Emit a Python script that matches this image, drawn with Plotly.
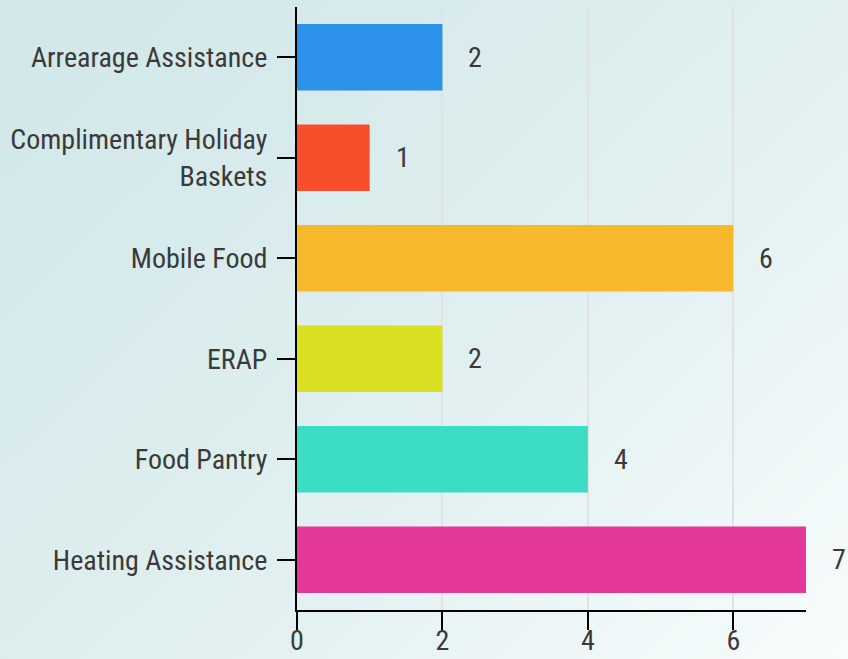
import plotly.graph_objects as go

categories = ["Arrearage Assistance", "Complimentary Holiday<br>Baskets", "Mobile Food",
              "ERAP", "Food Pantry", "Heating Assistance"]
values = [2, 1, 6, 2, 4, 7]
colors = ["#2D92EA", "#F94E2C", "#F6B92B", "#D8E021", "#3BDDC4", "#E4399B"]
x_ticks = [0, 2, 4, 6]

FONT = "Roboto Condensed, Liberation Sans Narrow, Roboto, sans-serif"
TXT = "#3a3a3a"
FS = 28

W, H = 848, 659
ml, mr, mt, mb = 297, 42, 7, 49
pw, ph = W - ml - mr, H - mt - mb

svg = ("data:image/svg+xml;utf8,<svg xmlns='http://www.w3.org/2000/svg' width='848' height='659'>"
       "<defs><linearGradient id='g' x1='0' y1='0.2' x2='1' y2='1'>"
       "<stop offset='0' stop-color='%23d2e8e9'/><stop offset='0.55' stop-color='%23e2f0f1'/>"
       "<stop offset='1' stop-color='%23f8fcfc'/></linearGradient></defs>"
       "<rect width='848' height='659' fill='url(%23g)'/></svg>")

fig = go.Figure(go.Bar(
    x=values, y=categories, orientation="h",
    marker=dict(color=colors, line=dict(width=0)),
    hoverinfo="skip",
))

for v, c in zip(values, categories):
    fig.add_annotation(x=v, y=c, text=str(v), showarrow=False, xanchor="left",
                       xshift=24, font=dict(family=FONT, size=FS, color=TXT))

fig.update_layout(
    width=W, height=H,
    margin=dict(l=ml, r=mr, t=mt, b=mb, autoexpand=False),
    paper_bgcolor="rgba(0,0,0,0)", plot_bgcolor="rgba(0,0,0,0)",
    bargap=0.34, showlegend=False,
    font=dict(family=FONT, size=FS, color=TXT),
    images=[dict(source=svg, xref="paper", yref="paper",
                 x=-ml / pw, y=1 + mt / ph, sizex=W / pw, sizey=H / ph,
                 sizing="stretch", layer="below", xanchor="left", yanchor="top")],
    xaxis=dict(range=[0, 7], tickvals=x_ticks, showgrid=True, gridcolor="#e2e2e2", gridwidth=2,
               zeroline=False, showline=True, linecolor="#000", linewidth=2, automargin=False,
               ticks="outside", ticklen=18, tickwidth=2, tickcolor="#000", ticklabelstandoff=-14,
               tickfont=dict(family=FONT, size=FS, color=TXT)),
    yaxis=dict(autorange="reversed", showgrid=False, zeroline=False, showline=True, automargin=False,
               linecolor="#000", linewidth=2, ticks="outside", ticklen=18, tickwidth=2,
               tickcolor="#000", ticklabelstandoff=4, tickfont=dict(family=FONT, size=FS, color=TXT)),
)

fig.write_html("out.html", config={"displayModeBar": False},
               post_script="document.body.style.margin='0';document.body.style.padding='0';")
